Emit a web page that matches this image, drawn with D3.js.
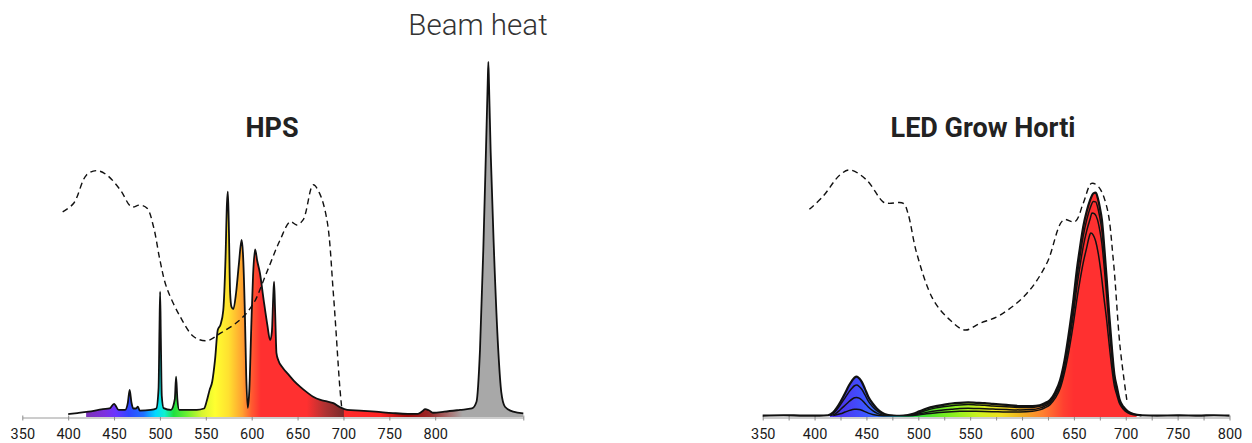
<!DOCTYPE html>
<html>
<head>
<meta charset="utf-8">
<script src="https://cdn.jsdelivr.net/npm/d3@7"></script>
<style>
  body { margin: 0; background: #fff; }
  svg { display: block; font-family: Roboto, "Noto Sans", sans-serif; }
</style>
</head>
<body>
<svg width="1252" height="443"></svg>
<script>
// HPS lamp spectrum [nm, relative]
const hpsSpectrum = [[400,0.8],[410,1.1],[422,1.5],[438,2.2],[445,2.4],[450,3.7],[455,2.0],[462,2.0],[465,4],[467,7.6],[469,4],[471,2.4],[474,2.4],[476,2.9],[478,1.8],[490,2.0],[496,2.4],[498.5,8],[499.5,25],[500.2,35.3],[501,22],[502,6],[504,2.5],[512,2.0],[516.2,5],[517.6,11.4],[519,5],[521,2.0],[540,2.0],[548,2.4],[551,4.5],[554,7.5],[557,10],[560,16],[563,24.5],[566,26],[569,30],[571.5,45],[573,60],[574,63.5],[575,55],[576.5,35],[578,31],[580,30.4],[583,35],[586,43],[589,49.9],[590.5,46],[592.5,30],[594,12],[595.7,2.6],[597.5,8],[599.5,25],[601.5,40],[603.7,47.2],[606,44],[609,40.5],[613,33],[617,26],[620,21.7],[622,24],[623.5,34],[624.4,38.1],[625.5,30],[627,18],[629,16],[634,13.8],[640,12],[646,10.2],[653,8.5],[660,7],[667,5.7],[675,4.8],[682,4.4],[689,3.9],[696,2.8],[704,2.0],[718,1.8],[735,1.5],[754,1.1],[770,0.9],[781,0.9],[786,1.6],[789,2.2],[793,1.9],[798,1.2],[810,1.5],[827,2.0],[840,2.4],[845,4.3],[848.8,18.9],[852.4,47],[855.3,75],[857.2,94],[857.9,100],[858.6,94],[860.4,75],[864,47],[868.7,18.9],[872,7],[876,2.9],[885,1.5],[896,1.0]];

// plant absorption (dashed) as traced on each panel
const absorptionHps = [[394,57.8],[406,60.2],[420,68.2],[431,69.4],[442,68.2],[457,63.9],[469,59.2],[478,59.7],[486,58.8],[493,53.6],[500,44.2],[507,36.7],[522,28.3],[537,22.6],[551,21.5],[566,23.6],[587,27.3],[602,32.0],[616,40.5],[631,49.9],[642,55.0],[649,54.1],[656,55.5],[667,65.4],[674,63.0],[682,55.5],[689,34.8],[696,8.5],[698,2.9]];
const absorptionLed = [[395,58.5],[408,62.1],[424.5,68.2],[434,69.6],[450,66.8],[466,60.6],[471,60.2],[485.6,60.2],[490,57.4],[498.5,46.1],[514.5,33],[530.6,27.3],[545,24.5],[559.5,26.4],[578.8,28.7],[604.6,34.8],[623.9,43.3],[640,55.5],[651,55.0],[659,60.2],[667,65.8],[673.6,64.9],[681.7,59.2],[688,44.2],[694.5,19.8],[701,4.8]];

// LED Grow Horti spectra at four settings
const ledA = [[350,0.4],[370,0.5],[390,0.4],[405,0.4],[413,0.5],[418,1.3],[421,2.4],[425,4.3],[429.4,6.7],[433,8.8],[436,10.2],[438.5,11.1],[440.6,11.4],[443,10.9],[445.5,9.9],[448.5,8],[451.8,5.7],[456,3.8],[460,2.4],[465,1.2],[470,0.6],[476,0.4],[482,0.35],[489,0.5],[495,0.9],[501,1.6],[508,2.4],[516,3.0],[524,3.4],[532,3.8],[540,4.0],[548,4.1],[556,4.0],[564,3.9],[572,3.7],[585,3.4],[598,3.1],[610,3.1],[617,3.3],[622,3.9],[627,4.8],[632,7],[636.7,10.4],[641,16],[646,25.4],[649.5,33],[652.8,41.4],[656,48],[659,53.6],[662.4,58],[665.6,61.1],[668.8,63],[671,63.2],[672.7,62],[675,59],[677,55.5],[679.5,47],[681.7,38.6],[684,29],[686.5,19.8],[689,12],[691.4,8.5],[694,5],[697.7,2.9],[702,1.6],[707.4,0.85],[715,0.5],[730,0.4],[750,0.45],[770,0.4],[785,0.5],[800,0.4]];
const ledB = [[413,0.4],[418,1.0],[421,1.9],[425,3.5],[429.4,5.4],[433,7.0],[436,8.1],[438.5,8.8],[440.6,9.0],[443,8.6],[445.5,7.8],[448.5,6.3],[451.8,4.5],[456,2.9],[460,1.8],[465,0.9],[470,0.5],[482,0.35],[495,0.7],[501,1.2],[508,1.9],[516,2.5],[524,2.9],[532,3.2],[540,3.4],[548,3.5],[556,3.4],[564,3.3],[572,3.1],[585,2.9],[598,2.7],[610,2.7],[617,3.0],[622,3.5],[627,4.4],[632,6.5],[636.7,9.6],[641,15],[646,23.8],[649.5,31],[652.8,39],[656,45.5],[659,51],[662.4,55.6],[665.6,58.8],[668.8,60.7],[671,60.6],[672.7,59.3],[675,56.2],[677,52.5],[679.5,44.5],[681.7,36.3],[684,27.2],[686.5,18.5],[689,11.2],[691.4,7.8],[694,4.6],[697.7,2.6],[702,1.4],[707.4,0.8],[715,0.45]];
const ledC = [[415,0.4],[420,0.9],[425,2.1],[429.4,3.3],[433,4.3],[436,5.0],[438.5,5.4],[440.6,5.5],[443,5.3],[445.5,4.8],[448.5,3.9],[451.8,2.8],[456,1.8],[460,1.1],[465,0.6],[470,0.4],[482,0.35],[495,0.55],[501,0.9],[508,1.3],[516,1.7],[524,2.0],[532,2.2],[540,2.4],[548,2.45],[556,2.4],[564,2.35],[572,2.25],[585,2.1],[598,2.0],[610,2.1],[617,2.5],[622,3.1],[627,4.0],[632,6.0],[636.7,8.9],[641,14],[646,22.2],[649.5,29],[652.8,36.6],[656,42.8],[659,48],[662.4,52.5],[665.6,55.8],[667.5,57.5],[670,57.2],[672.7,55.6],[675,52.5],[677,48.8],[679.5,41.3],[681.7,33.6],[684,25.2],[686.5,17.1],[689,10.4],[691.4,7.2],[694,4.3],[697.7,2.4],[702,1.3],[707.4,0.7],[715,0.45]];
const ledD = [[418,0.4],[425,0.9],[429.4,1.4],[433,1.8],[436,2.05],[438.5,2.2],[440.6,2.2],[443,2.1],[445.5,1.9],[448.5,1.5],[451.8,1.1],[456,0.7],[462,0.45],[470,0.35],[495,0.4],[501,0.6],[508,0.9],[516,1.15],[524,1.35],[532,1.5],[540,1.6],[548,1.65],[556,1.6],[564,1.55],[572,1.5],[585,1.4],[598,1.4],[610,1.6],[617,2.0],[622,2.6],[627,3.5],[632,5.3],[636.7,8],[641,12.6],[646,20],[649.5,26.3],[652.8,33],[656,38.7],[659,43.5],[662.4,47.8],[664.5,50.5],[666.3,51.8],[668.5,51.3],[671,49.5],[673.5,46],[676,41],[679,33.5],[681.7,27],[684,20.5],[686.5,14],[689,8.8],[691.4,6.2],[694,3.8],[697.7,2.2],[702,1.2],[707.4,0.65],[715,0.45]];
const ledSeries = [ledA, ledB, ledC, ledD];

const hpsTicks = [350, 400, 450, 500, 550, 600, 650, 700, 750, 800, 896];
const ledTicks = d3.range(350, 801, 25);

// colour stops for the fills [nm, colour] (8-digit = transparent)
const hpsColors = [[350,"#ffffff00"],[419.5,"#ffffff00"],[420,"#7b32b8"],[440,"#7d2fe0"],[452,"#6a34ff"],[466,"#3045ff"],[482,"#2070ff"],[495,"#00d8ff"],[505,"#10f0d0"],[515,"#20e040"],[530,"#70f030"],[546,"#d8f530"],[560,"#ffff30"],[575,"#ffe030"],[590,"#ffa030"],[600,"#ff5a30"],[610,"#ff3030"],[660,"#ff3030"],[680,"#b03232"],[700,"#7a2a2a"],[700.5,"#ff2a2a"],[740,"#ff2424"],[770,"#a00808"],[795,"#9a2a2a"],[815,"#a87070"],[830,"#a8a8a8"],[896,"#a8a8a8"]];
const ledColors = [[350,"#ffffff00"],[414,"#ffffff00"],[415,"#4a30f0"],[430,"#4a3cf0"],[445,"#4050ff"],[460,"#3a70ff"],[475,"#20b0e0"],[490,"#20d070"],[505,"#40e030"],[530,"#80f020"],[560,"#d0f020"],[580,"#f0e020"],[600,"#f0b020"],[620,"#ff8030"],[640,"#ff4030"],[650,"#ff3030"],[710,"#ff3030"],[711,"#ffffff00"],[800,"#ffffff00"]];

const svg = d3.select("svg");
const defs = svg.append("defs");

const y = d3.scaleLinear().domain([0, 100]).range([417, 62]);
const xL = d3.scaleLinear().domain([350, 896]).range([22.3, 523.3]);
const xR = d3.scaleLinear().domain([350, 800]).range([762.7, 1229.5]);

function makeGradient(id, x, stops) {
    const [d0, d1] = x.domain();
    const g = defs.append("linearGradient")
        .attr("id", id)
        .attr("gradientUnits", "userSpaceOnUse")
        .attr("x1", x(d0)).attr("x2", x(d1))
        .attr("y1", 0).attr("y2", 0);
    g.selectAll("stop").data(stops).enter().append("stop")
        .attr("offset", d => (d[0] - d0) / (d1 - d0))
        .attr("stop-color", d => d[1].slice(0, 7))
        .attr("stop-opacity", d => d[1].length > 7 ? 0 : 1);
}
makeGradient("hpsFill", xL, hpsColors);
makeGradient("ledFill", xR, ledColors);

function drawAxis(x, ticks) {
    const axis = d3.axisBottom(x)
        .tickValues(ticks)
        .tickSizeInner(5)
        .tickSizeOuter(0)
        .tickFormat(d => (d % 50 === 0 && d <= 800) ? d : "");
    const g = svg.append("g")
        .attr("transform", "translate(0,417.5)")
        .call(axis);
    g.select(".domain").attr("stroke", "#9a9a9a");
    g.selectAll(".tick line").attr("stroke", "#8a8a8a").attr("y1", -2).attr("y2", 3);
    g.selectAll(".tick text")
        .attr("y", 11)
        .attr("font-family", "Roboto, sans-serif")
        .attr("font-size", "14.5px")
        .attr("fill", "#1a1a1a");
}
drawAxis(xL, hpsTicks);
drawAxis(xR, ledTicks);

// HPS panel
const areaL = d3.area().x(d => xL(d[0])).y0(y(0)).y1(d => y(d[1])).curve(d3.curveMonotoneX);
const lineL = d3.line().x(d => xL(d[0])).y(d => y(d[1])).curve(d3.curveMonotoneX);

svg.append("path").datum(hpsSpectrum)
    .attr("d", areaL)
    .attr("fill", "url(#hpsFill)");
svg.append("path").datum(hpsSpectrum)
    .attr("d", lineL)
    .attr("fill", "none")
    .attr("stroke", "#111")
    .attr("stroke-width", 1.8)
    .attr("stroke-linejoin", "round");

svg.append("path").datum(absorptionHps)
    .attr("d", d3.line().x(d => xL(d[0])).y(d => y(d[1])).curve(d3.curveCatmullRom))
    .attr("fill", "none")
    .attr("stroke", "#111")
    .attr("stroke-width", 1.4)
    .attr("stroke-dasharray", "6,4");

// LED panel
const areaR = d3.area().x(d => xR(d[0])).y0(y(0)).y1(d => y(d[1])).curve(d3.curveMonotoneX);
const lineR = d3.line().x(d => xR(d[0])).y(d => y(d[1])).curve(d3.curveMonotoneX);

ledSeries.forEach((s, i) => {
    svg.append("path").datum(s)
        .attr("d", areaR)
        .attr("fill", "url(#ledFill)");
    svg.append("path").datum(s)
        .attr("d", lineR)
        .attr("fill", "none")
        .attr("stroke", "#111")
        .attr("stroke-width", i === 0 ? 2.2 : 1.5);
});

svg.append("path").datum(absorptionLed)
    .attr("d", d3.line().x(d => xR(d[0])).y(d => y(d[1])).curve(d3.curveCatmullRom))
    .attr("fill", "none")
    .attr("stroke", "#111")
    .attr("stroke-width", 1.4)
    .attr("stroke-dasharray", "6,4");

// titles
svg.append("text")
    .attr("x", 272).attr("y", 137)
    .attr("text-anchor", "middle")
    .attr("font-size", "27px").attr("font-weight", 700)
    .attr("fill", "#222")
    .text("HPS");
svg.append("text")
    .attr("x", 983).attr("y", 137)
    .attr("text-anchor", "middle")
    .attr("font-size", "27px").attr("font-weight", 700)
    .attr("fill", "#222")
    .text("LED Grow Horti");
svg.append("text")
    .attr("x", 478).attr("y", 35)
    .attr("text-anchor", "middle")
    .attr("font-size", "29.5px").attr("font-weight", 300)
    .attr("fill", "#333")
    .text("Beam heat");
</script>
</body>
</html>
